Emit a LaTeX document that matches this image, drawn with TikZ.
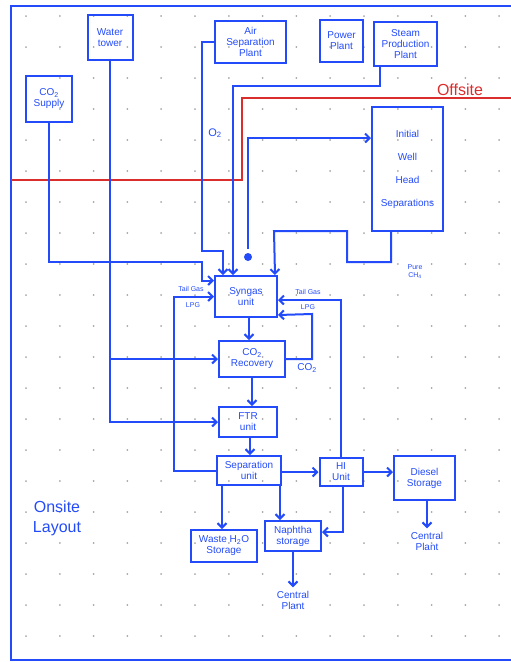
\documentclass[tikz,border=0pt]{standalone}
\usepackage{fontspec}
\setmainfont{Liberation Sans}
\usetikzlibrary{arrows.meta, calc}
\definecolor{pen}{RGB}{35,75,250}
\definecolor{redpen}{RGB}{220,45,45}
\tikzset{
    box/.style={draw=pen, line width=2pt, align=center, text=pen, inner sep=1pt, font=\fontsize{10}{11}\selectfont},
    arrow/.style={-{Straight Barb[length=4.5pt,width=9pt]}, line width=2pt, pen},
    lbl/.style={text=pen, align=center, font=\fontsize{10}{11}\selectfont},
    note/.style={text=pen, align=center, inner sep=0pt, font=\fontsize{7}{8}\selectfont}
}

\begin{document}
\begin{tikzpicture}[x=1pt, y=-1pt]
    \useasboundingbox (0,0) rectangle (511,662);
    % dot grid
    \foreach \i in {0,...,14}
        \foreach \j in {0,...,20}
            \fill[gray!70] (26+33.8*\i, 16+31*\j) circle (1);
    % page frame and offsite boundary
    \draw[pen, line width=2.4pt] (511,6) -- (11,6) -- (11,660) -- (511,660);
    \draw[redpen, line width=1.8pt] (11,180) -- (242,180) -- (242,98) -- (511,98);
    \node[text=redpen, font=\fontsize{16}{17}\selectfont] (offsite) at (460,90) {Offsite};
    \node[lbl, font=\fontsize{16}{20}\selectfont] (onsite) at (57,518) {Onsite\\Layout};

    % offsite units
    \node[box, minimum width=45pt, minimum height=45pt] (water) at (110,37.5) {Water\\tower};
    \node[box, minimum width=46pt, minimum height=46pt] (co2sup) at (49,99) {CO\textsubscript{2}\\Supply};
    \node[box, minimum width=71pt, minimum height=42pt] (airsep) at (250.5,42) {Air\\Separation\\Plant};
    \node[box, minimum width=43pt, minimum height=42pt] (power) at (341.5,41) {Power\\Plant};
    \node[box, minimum width=63pt, minimum height=44pt] (steam) at (405.5,44) {Steam\\Production\\Plant};
    \node[box, minimum width=71pt, minimum height=124pt] (iwh) at (407.5,169) {Initial\\[12pt]Well\\[12pt]Head\\[12pt]Separations};

    % onsite units
    \node[box, minimum width=62pt, minimum height=41pt] (syngas) at (246,296.5) {Syngas\\unit};
    \node[box, minimum width=66pt, minimum height=36pt] (co2rec) at (252,359) {CO\textsubscript{2}\\Recovery};
    \node[box, minimum width=58pt, minimum height=30pt] (ftr) at (248,422) {FTR\\unit};
    \node[box, minimum width=64pt, minimum height=29pt] (sep) at (249,470.5) {Separation\\unit};
    \node[box, minimum width=43pt, minimum height=28pt] (hi) at (341,472) {HI\\Unit};
    \node[box, minimum width=61pt, minimum height=44pt] (diesel) at (424.5,478) {Diesel\\Storage};
    \node[box, minimum width=66pt, minimum height=32pt] (waste) at (224,546) {Waste H\textsubscript{2}O\\Storage};
    \node[box, minimum width=56pt, minimum height=30pt] (naphtha) at (293,536) {Naphtha\\storage};
    \node[lbl] (cp1) at (293,600) {Central\\Plant};
    \node[lbl] (cp2) at (427,541) {Central\\Plant};
    \node[circle, fill=pen, inner sep=0pt, minimum size=8pt] (dot) at (248,257) {};

    % feeds into syngas
    \draw[arrow] (co2sup.south) |- (202,262) -- (202,280.5) -- ([yshift=16pt]syngas.west);
    \draw[arrow] (airsep.west) -| (202,251) -| ([xshift=-23pt]syngas.north);
    \node[lbl, font=\fontsize{11}{12}\selectfont] (o2) at (215,133) {O\textsubscript{2}};
    \draw[arrow] ([xshift=-26pt]steam.south) |- (233,86) -- ([xshift=-13pt]syngas.north);
    \draw[arrow] ([yshift=4pt]dot.north) |- ([yshift=31pt]iwh.west);
    \draw[arrow] ([xshift=-16.5pt]iwh.south) |- (347,262) |- (274,231) -- ([xshift=-3pt]syngas.north east);
    \node[note] (ch4) at (415,272) {Pure\\CH\textsubscript{4}};

    % recycle loops
    \draw[arrow] (co2rec.east) -| (312,314) -- ([yshift=3pt]syngas.south east);
    \node[lbl] (co2lbl) at (307,368) {CO\textsubscript{2}};
    \draw[arrow] (hi.north) |- ([yshift=-3.5pt]syngas.east);
    \node[note] (tgr) at (308,292) {Tail Gas};
    \node[note] (lpgr) at (308,307) {LPG};
    \draw[arrow] (sep.west) -| (174,296.5) -- (syngas.west);
    \node[note] (tgl) at (191,289) {Tail Gas};
    \node[note] (lpgl) at (193,305) {LPG};

    % water supply
    \draw[arrow] (water.south) |- (ftr.west);
    \draw[arrow] (water.south |- co2rec.west) -- (co2rec.west);

    % main train
    \draw[arrow] ([xshift=3pt]syngas.south) -- ([xshift=-3pt]co2rec.north);
    \draw[arrow] (co2rec.south) -- ([xshift=4pt]ftr.north);
    \draw[arrow] ([xshift=2pt]ftr.south) -- ([xshift=1pt]sep.north);
    \draw[arrow] ([yshift=-1.5pt]sep.east) -- (hi.west);
    \draw[arrow] (hi.east) -- ([yshift=6pt]diesel.west);
    \draw[arrow] ([xshift=-27pt]sep.south) -- ([xshift=-2pt]waste.north);
    \draw[arrow] ([xshift=31pt]sep.south) -- ([xshift=-13pt]naphtha.north);
    \draw[arrow] ([xshift=2pt]hi.south) |- ([yshift=4pt]naphtha.east);
    \draw[arrow] (naphtha.south) -- (cp1.north);
    \draw[arrow] ([xshift=2.5pt]diesel.south) -- (cp2.north);
\end{tikzpicture}
\end{document}
